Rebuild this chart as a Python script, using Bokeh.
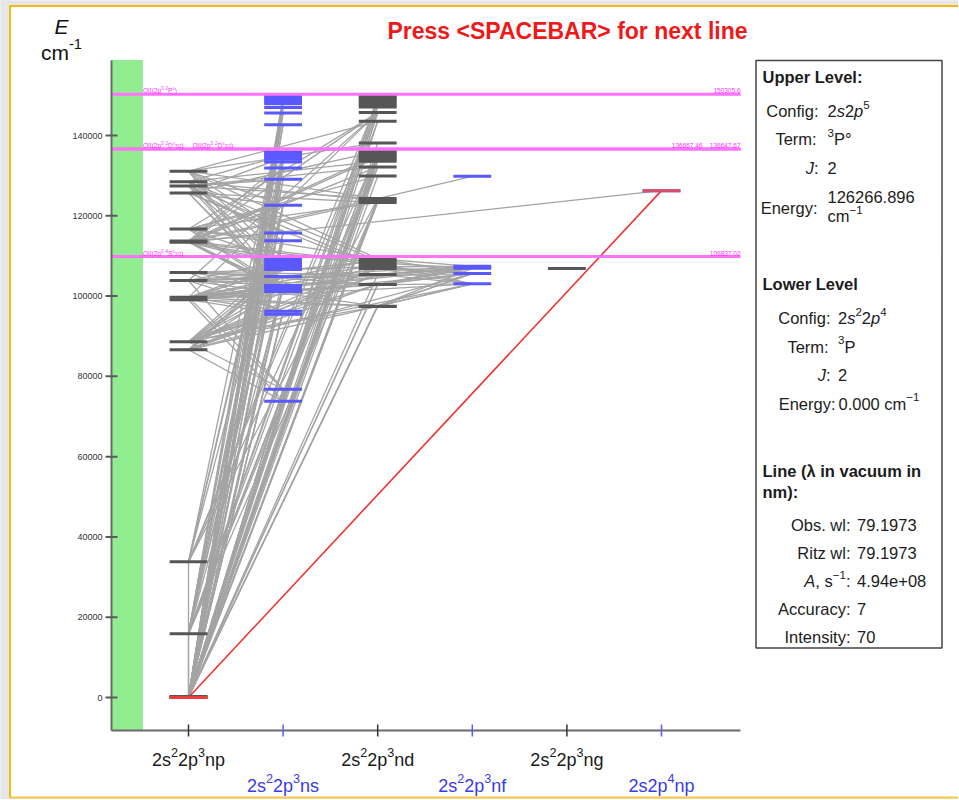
from bokeh.plotting import figure
from bokeh.models import Range1d, ColumnDataSource
from bokeh.embed import file_html
from bokeh.resources import INLINE
from bokeh.core.properties import value, field

FONT = "Liberation Sans"

# ------------------------------------------------------------------ data
y_ticks = [0, 20000, 40000, 60000, 80000, 100000, 120000, 140000]

# columns (1..6) of the Grotrian diagram
column_index = [1, 2, 3, 4, 5, 6]
column_is_blue = [False, True, False, True, False, True]
column_label_pieces = [
    [("2s", "n"), ("2", "sup"), ("2p", "n"), ("3", "sup"), ("np", "n")],
    [("2s", "n"), ("2", "sup"), ("2p", "n"), ("3", "sup"), ("ns", "n")],
    [("2s", "n"), ("2", "sup"), ("2p", "n"), ("3", "sup"), ("nd", "n")],
    [("2s", "n"), ("2", "sup"), ("2p", "n"), ("3", "sup"), ("nf", "n")],
    [("2s", "n"), ("2", "sup"), ("2p", "n"), ("3", "sup"), ("ng", "n")],
    [("2s2p", "n"), ("4", "sup"), ("np", "n")],
]

# level energies (cm-1) per column
levels_np = [0, 158, 227, 15868, 33793, 86626, 88631, 99094, 99680, 103870,
             105900, 113400, 113700, 116700, 125700, 127400, 128500, 131100]
levels_ns = [73768, 76795, 95477, 96225, 101147, 101600, 102117, 102411, 102662,
             104900, 106600, 107100, 107600, 108100, 108700, 109300, 113800,
             115740, 122620, 129090, 131930, 133420, 134070, 134500, 135000,
             135500, 135900, 142700, 145630, 146950, 147900, 148400, 148900,
             149400, 149900]
levels_nd = [97420, 97488, 102865, 102908, 105385, 106850, 107300, 107800,
             108300, 108800, 109300, 123300, 123800, 124300, 129930, 132180,
             133580, 134100, 134600, 135100, 135600, 136060, 138150, 143540,
             145700, 147100, 147600, 148100, 148600, 149100, 149600, 149900]
levels_nf = [103040, 105600, 106900, 107400, 129840]
levels_ng = [106850]
levels_2s2p4np = [126266.896]

# selected line: lower and upper level (column, energy)
selected_lower = (1, 0.0)
selected_upper = (6, 126266.896)

# ionization limits
limit_E = [150305.6, 136667.46, 136647.67, 109837.02]
limit_value_text = ["150305.6", "136667.46", "136647.67", "109837.02"]
limit_name_pieces = [
    [("OII(2p", "n"), ("3", "sup"), (" ", "n"), ("2", "sup"), ("P°)", "n")],
    [("OII(2p", "n"), ("3", "sup"), (" ", "n"), ("2", "sup"), ("D°", "n"), ("3/2", "sub"), (")", "n")],
    [("OII(2p", "n"), ("3", "sup"), (" ", "n"), ("2", "sup"), ("D°", "n"), ("5/2", "sub"), (")", "n")],
    [("OII(2p", "n"), ("3", "sup"), (" ", "n"), ("4", "sup"), ("S°", "n"), ("3/2", "sub"), (")", "n")],
]

# transitions: (lower column, lower energy, upper column, [upper energies])
transition_groups = [
    (1, 0, 1, [15868, 33793]),
    (1, 0, 2, [76795, 96225, 102117, 102662, 104900, 113800, 115740, 122620, 129090,
               131930, 133420, 134070, 135000, 135900, 142700, 145630, 146950, 147900,
               148900, 149900]),
    (1, 0, 3, [97488, 102908, 105385, 123300, 124300, 129930, 132180, 133580, 134600,
               136060, 138150, 143540, 145700, 147100, 148600, 149900]),
    (1, 158, 2, [76795, 96225, 102662, 115740, 122620, 133420, 135900, 145630, 148400]),
    (1, 158, 3, [97488, 102908, 124300, 134100, 145700]),
    (1, 227, 2, [76795, 96225, 115740, 134070]),
    (1, 227, 3, [97488, 123800, 135100]),
    (1, 15868, 2, [102117, 113800, 115740, 122620, 129090, 131930, 134500, 142700,
                   146950, 149400]),
    (1, 15868, 3, [123800, 132180, 134600, 136060, 143540, 147600, 149100]),
    (1, 33793, 2, [122620, 133420, 135500, 146950]),
    (1, 33793, 3, [124300, 135600, 145700, 148600]),
    (1, 86626, 2, [73768, 95477, 102411, 106600, 108100]),
    (1, 86626, 3, [97420, 102865, 105385, 107300]),
    (1, 86626, 4, [105600]),
    (1, 88631, 2, [76795, 96225, 101147, 102662, 104900, 107100, 109300]),
    (1, 88631, 3, [97488, 102908, 105385, 106850, 108300]),
    (1, 88631, 4, [103040]),
    (1, 99094, 2, [73768, 95477, 102411, 104900, 107600]),
    (1, 99094, 3, [97420, 102865, 105385, 106850]),
    (1, 99094, 4, [103040, 105600]),
    (1, 99680, 2, [76795, 96225, 102662, 106600, 108100]),
    (1, 99680, 3, [97488, 102908, 107800, 109300, 145700]),
    (1, 99680, 4, [106900, 107400]),
    (1, 103870, 2, [76795, 96225, 102662, 104900, 108700]),
    (1, 103870, 3, [97488, 102908, 105385, 108800, 145700]),
    (1, 103870, 4, [105600, 107400]),
    (1, 105900, 2, [96225, 102662, 104900]),
    (1, 105900, 3, [102908, 105385, 107300]),
    (1, 113400, 2, [101147, 102117, 107600, 109300, 122620, 131930]),
    (1, 113400, 3, [107800, 123800, 132180, 134600, 145700]),
    (1, 113400, 6, [126266.896]),
    (1, 113700, 2, [101147, 102117, 108100, 115740, 133420]),
    (1, 113700, 3, [108300, 124300, 135100]),
    (1, 116700, 2, [101147, 102117, 108700, 113800, 122620]),
    (1, 116700, 3, [109300, 123300, 129930, 145700]),
    (1, 125700, 2, [101147, 102117, 115740, 122620, 134500]),
    (1, 125700, 3, [106850, 123300, 136060]),
    (1, 127400, 2, [102117, 107100, 113800, 129090]),
    (1, 127400, 3, [107300, 124300, 132180]),
    (1, 128500, 2, [101147, 108100, 115740, 135000]),
    (1, 128500, 3, [108800, 123800, 133580]),
    (1, 131100, 2, [102117, 109300, 115740, 122620]),
    (1, 131100, 3, [109300, 124300, 138150, 143540]),
    (3, 97420, 4, [103040, 105600]),
    (3, 97488, 4, [103040, 105600, 106900]),
    (3, 102865, 4, [103040, 105600, 107400]),
    (3, 102908, 4, [105600, 106900, 107400]),
    (3, 105385, 4, [103040, 106900, 107400]),
    (3, 106850, 4, [103040, 105600]),
    (3, 107300, 4, [105600, 107400]),
    (3, 108300, 4, [103040, 106900]),
    (3, 109300, 4, [105600, 107400]),
    (3, 124300, 4, [129840]),
]

# info panel content
upper_rows = [
    ([("Config:", "n")], [("2", "n"), ("s", "i"), ("2", "n"), ("p", "i"), ("5", "sup")]),
    ([("Term:", "n")], [("3", "sup"), ("P°", "n")]),
    ([("J", "i"), (":", "n")], [("2", "n")]),
]
upper_energy = "126266.896"
lower_rows = [
    ([("Config:", "n")], [("2", "n"), ("s", "i"), ("2", "sup"), ("2", "n"), ("p", "i"), ("4", "sup")]),
    ([("Term:", "n")], [("3", "sup"), ("P", "n")]),
    ([("J", "i"), (":", "n")], [("2", "n")]),
    ([("Energy:", "n")], [("0.000 cm", "n"), ("−1", "sup")]),
]
line_rows = [
    ([("Obs. wl:", "n")], [("79.1973", "n")]),
    ([("Ritz wl:", "n")], [("79.1973", "n")]),
    ([("A", "i"), (", s", "n"), ("−1", "sup"), (":", "n")], [("4.94e+08", "n")]),
    ([("Accuracy:", "n")], [("7", "n")]),
    ([("Intensity:", "n")], [("70", "n")]),
]

# ------------------------------------------------------------------ layout (pixels on page)
PX0, PY0, W, H = 0, 0, 958, 799
COL1_PX, COL_STEP = 188.0, 94.6
E0_PY, PX_PER_CM = 697.0, 562.0 / 140000.0
AX_L, AX_R, AX_T, AX_B = 111, 740, 60, 730
BAND_R = 142
HALF_BAR = 0.2

def col_px(c):
    return COL1_PX + (c - 1) * COL_STEP

def e_py(e):
    return E0_PY - e * PX_PER_CM

x_range = Range1d(1 + (PX0 - COL1_PX) / COL_STEP, 1 + (PX0 + W - COL1_PX) / COL_STEP)
y_range = Range1d((E0_PY - (PY0 + H)) / PX_PER_CM, (E0_PY - PY0) / PX_PER_CM)

p = figure(width=W, height=H, x_range=x_range, y_range=y_range,
           output_backend="svg", toolbar_location=None,
           x_axis_location=None, y_axis_location=None, min_border=0)
p.extra_x_ranges = {"px": Range1d(PX0, PX0 + W)}
p.extra_y_ranges = {"py": Range1d(PY0 + H, PY0)}
p.grid.visible = False
p.outline_line_color = None
p.background_fill_color = "white"
p.border_fill_color = "white"

PXR = dict(x_range_name="px", y_range_name="py")

# page surround (grey) and orange frame
p.quad(left=[0], right=[8.5], top=[0], bottom=[H], color="#e6e6e6", **PXR)
p.quad(left=[0], right=[W], top=[0], bottom=[4.5], color="#e6e6e6", **PXR)
p.quad(left=[0], right=[W], top=[798], bottom=[H], color="#e6e6e6", **PXR)
p.segment(x0=[9.5, 9], y0=[5, 5.5], x1=[9.5, W], y1=[797, 5.5],
          line_color="#f6b913", line_width=2, **PXR)
p.segment(x0=[9], y0=[797], x1=[W], y1=[797], line_color="#f6c94a", line_width=2, **PXR)

# green band
p.quad(left=[AX_L], right=[BAND_R], top=[AX_T], bottom=[AX_B], color="#90ee90", **PXR)

# transitions
tx0, ty0, tx1, ty1 = [], [], [], []
for c0, e0, c1, ups in transition_groups:
    for e1 in ups:
        tx0.append(c0); ty0.append(e0); tx1.append(c1); ty1.append(e1)
p.segment(x0=tx0, y0=ty0, x1=tx1, y1=ty1, line_color="#a4a4a4", line_width=1.3)

# selected line (red)
p.segment(x0=[selected_lower[0]], y0=[selected_lower[1]], x1=[selected_upper[0]],
          y1=[selected_upper[1]], line_color="#ee3333", line_width=1.6)

# level bars
all_levels = [levels_np, levels_ns, levels_nd, levels_nf, levels_ng, levels_2s2p4np]
lx0, lx1, ly, lc = [], [], [], []
for c, levs, blue in zip(column_index, all_levels, column_is_blue):
    for e in levs:
        lx0.append(c - HALF_BAR); lx1.append(c + HALF_BAR); ly.append(e)
        lc.append("#5959ff" if blue else "#565656")
p.segment(x0=lx0, y0=ly, x1=lx1, y1=ly, line_color=lc, line_width=3)
sel_c = [selected_lower[0], selected_upper[0]]
sel_e = [selected_lower[1], selected_upper[1]]
p.segment(x0=[c - HALF_BAR for c in sel_c], y0=sel_e, x1=[c + HALF_BAR for c in sel_c],
          y1=sel_e, line_color=["#ee3b3b", "#d6506a"], line_width=3)

# ionization limits
p.segment(x0=[AX_L] * len(limit_E), y0=limit_E, x1=[AX_R] * len(limit_E), y1=limit_E,
          line_color="#ff72ff", line_width=3, x_range_name="px")

# axes lines and ticks
p.segment(x0=[AX_L], y0=[AX_T], x1=[AX_L], y1=[AX_B], line_color="#6a6a6a", line_width=2, **PXR)
p.segment(x0=[AX_L], y0=[AX_B], x1=[AX_R], y1=[AX_B], line_color="#6a6a6a", line_width=2, **PXR)
p.segment(x0=[AX_L - 6] * len(y_ticks), y0=y_ticks, x1=[AX_L + 6] * len(y_ticks), y1=y_ticks,
          line_color="#5a5a5a", line_width=2, x_range_name="px")
p.text(x=[AX_L - 9] * len(y_ticks), y=y_ticks, text=[str(t) for t in y_ticks],
       text_font=value(FONT), text_font_size="9px", text_color="#333333",
       text_align="right", text_baseline="middle", x_range_name="px")
p.segment(x0=column_index, y0=[AX_B - 6] * 6, x1=column_index, y1=[AX_B + 6] * 6,
          line_color=["#5959ff" if b else "#333333" for b in column_is_blue],
          line_width=1.5, y_range_name="py")

# ------------------------------------------------------------------ rich text helper
WID = {' ': .278, '.': .278, ':': .278, ',': .278, '(': .333, ')': .333, '<': .584,
       '>': .584, '+': .584, '-': .333, '−': .584, '/': .278, '°': .4, 'λ': .556}
for ch in "0123456789":
    WID[ch] = .556
WID.update(dict(zip("abcdefghijklmnopqrstuvwxyz",
                    [.556, .556, .5, .556, .556, .278, .556, .556, .222, .222, .5, .222, .833,
                     .556, .556, .556, .556, .333, .5, .278, .556, .5, .722, .5, .5, .5])))
WID.update(dict(zip("ABCDEFGHIJKLMNOPQRSTUVWXYZ",
                    [.667, .667, .722, .722, .667, .611, .778, .722, .278, .5, .667, .556, .833,
                     .722, .778, .667, .778, .722, .667, .611, .722, .667, .944, .667, .667, .611])))

T = dict(x=[], y=[], text=[], fs=[], st=[], col=[])

def tw(s):
    return sum(WID.get(ch, .556) for ch in s)

def rich(pieces, x, yc, size, color, align="left"):
    items, total = [], 0.0
    for t, k in pieces:
        fs = size * 0.7 if k in ("sup", "sub") else size
        w = tw(t) * fs
        items.append((t, k, fs, w))
        total += w
    x0 = x - total if align == "right" else (x - total / 2 if align == "center" else x)
    base = yc + 0.358 * size
    for t, k, fs, w in items:
        y = base - 0.4 * size if k == "sup" else (base + 0.18 * size if k == "sub" else base)
        st = "italic" if k == "i" else ("bold" if k == "b" else "normal")
        T["x"].append(x0); T["y"].append(y); T["text"].append(t)
        T["fs"].append(f"{fs:.2f}px"); T["st"].append(st); T["col"].append(color)
        x0 += w

# column labels
for c, pieces, blue in zip(column_index, column_label_pieces, column_is_blue):
    rich(pieces, col_px(c), 779 if blue else 753, 18, "#3a3ae8" if blue else "#1a1a1a", "center")

# ionization limit labels
MAG = "#ff30ff"
rich(limit_name_pieces[0], BAND_R + 0.5, e_py(limit_E[0]) - 5.5, 6.5, MAG)
rich(limit_name_pieces[2], BAND_R + 0.5, e_py(limit_E[2]) - 5.5, 6.5, MAG)
rich(limit_name_pieces[1], BAND_R + 50, e_py(limit_E[1]) - 5.5, 6.5, MAG)
rich(limit_name_pieces[3], BAND_R + 0.5, e_py(limit_E[3]) - 5.5, 6.5, MAG)
rich([(limit_value_text[0], "n")], AX_R, e_py(limit_E[0]) - 5.5, 6.5, MAG, "right")
rich([(limit_value_text[1], "n")], AX_R - 38, e_py(limit_E[1]) - 5.5, 6.5, MAG, "right")
rich([(limit_value_text[2], "n")], AX_R, e_py(limit_E[2]) - 5.5, 6.5, MAG, "right")
rich([(limit_value_text[3], "n")], AX_R, e_py(limit_E[3]) - 5.5, 6.5, MAG, "right")

# axis title
rich([("E", "i")], 61, 18, 21, "#111111", "center")
rich([("cm", "n"), ("-1", "sup")], 61, 44, 21, "#111111", "center")

# info panel
BOX_L, BOX_R, BOX_T, BOX_B = 755.5, 941.5, 60, 647.5
p.quad(left=[BOX_L], right=[BOX_R], top=[BOX_T], bottom=[BOX_B], fill_color="white",
       line_color="#444444", line_width=1.5, **PXR)
FS = 16.5
INK = "#1c1c1c"
y_up = [105, 133, 162]
for (lab, val), yc in zip(upper_rows, y_up):
    rich(lab, 818, yc, FS, INK, "right")
    rich(val, 827, yc, FS, INK)
rich([("Energy:", "n")], 817, 201.5, FS, INK, "right")
rich([(upper_energy, "n")], 827, 191, FS, INK)
rich([("cm", "n"), ("−1", "sup")], 827, 210, FS, INK)
y_lo = [312, 340.5, 369, 397.5]
for i, ((lab, val), yc) in enumerate(zip(lower_rows, y_lo)):
    last = i == len(lower_rows) - 1
    rich(lab, 835 if last else 830, yc, FS, INK, "right")
    rich(val, 838 if last else 837.5, yc, FS, INK)
y_ln = [518.5, 546.5, 575, 602.5, 630.5]
for (lab, val), yc in zip(line_rows, y_ln):
    rich(lab, 850, yc, FS, INK, "right")
    rich(val, 856.5, yc, FS, INK)

src = ColumnDataSource(T)
p.text(x="x", y="y", text="text", source=src, text_font=value(FONT),
       text_font_size=field("fs"), text_font_style=field("st"), text_color=field("col"),
       text_align="left", text_baseline="alphabetic", **PXR)

# bold headings
p.text(x=[762, 762, 762, 762], y=[76, 283.5, 470, 491],
       text=["Upper Level:", "Lower Level", "Line (λ in vacuum in", "nm):"],
       text_font=value(FONT), text_font_size="16.5px", text_font_style="bold",
       text_color=INK, text_align="left", text_baseline="middle", **PXR)

# title
p.text(x=[567], y=[30], text=["Press <SPACEBAR> for next line"], text_font=value(FONT),
       text_font_size="23px", text_font_style="bold", text_color="#f01818",
       text_align="center", text_baseline="middle", **PXR)

open("out.html", "w").write(file_html(p, INLINE))
